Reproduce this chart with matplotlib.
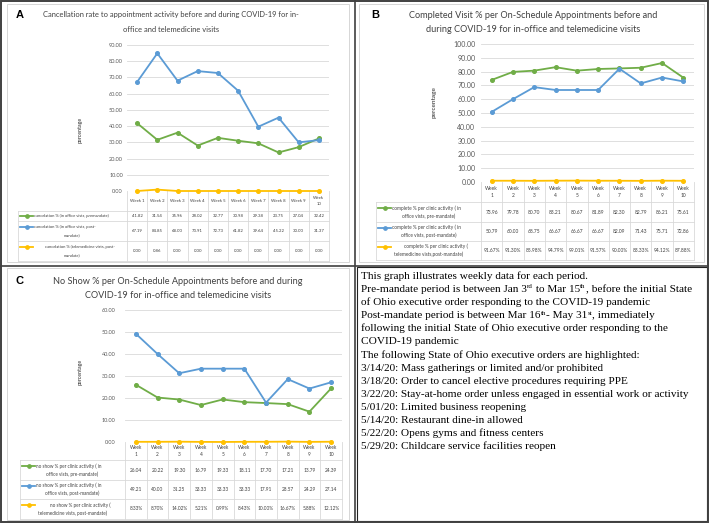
import matplotlib
matplotlib.use("Agg")
import matplotlib.pyplot as plt
from matplotlib.lines import Line2D
from matplotlib.patches import Rectangle

plt.rcParams['font.family'] = ['Lato', 'DejaVu Sans']

W, H = 709, 523

# ---------------- DATA ----------------
weeks_A = ["Week 1", "Week 2", "Week 3", "Week 4", "Week 5", "Week 6", "Week 7", "Week 8", "Week 9", "Week\n10"]
weeks_BC = ["Week\n1", "Week\n2", "Week\n3", "Week\n4", "Week\n5", "Week\n6", "Week\n7", "Week\n8", "Week\n9", "Week\n10"]

A_pre = [41.82, 31.54, 35.96, 28.02, 32.77, 30.98, 29.38, 23.75, 27.04, 32.42]
A_post = [67.19, 84.85, 68.00, 73.91, 72.73, 61.82, 39.64, 45.22, 30.00, 31.37]
A_tele = [0.00, 0.86, 0.00, 0.00, 0.00, 0.00, 0.00, 0.00, 0.00, 0.00]
A_labels = [("cancelation % (in office vists, premandate)", ""),
            ("cancelation % (in office vists, post-", "mandate)"),
            ("cancelation % (telemedicine vists, post-", "mandate)")]

B_pre = [73.96, 79.78, 80.70, 83.21, 80.67, 81.89, 82.30, 82.79, 86.21, 75.61]
B_post = [50.79, 60.00, 68.75, 66.67, 66.67, 66.67, 82.09, 71.43, 75.71, 72.86]
B_tele = [0.9167, 0.9130, 0.8598, 0.9479, 0.9901, 0.9157, 0.9000, 0.8333, 0.9412, 0.8788]
B_labels = [("complete % per clinic activity ( in", "office vists, pre-mandate)"),
            ("complete % per clinic activity ( in", "office vists, post-mandate)"),
            ("complete % per clinic activity (", "telemedicine vists,post-mandate)")]

C_pre = [26.04, 20.22, 19.30, 16.79, 19.33, 18.11, 17.70, 17.21, 13.79, 24.39]
C_post = [49.21, 40.00, 31.25, 33.33, 33.33, 33.33, 17.91, 28.57, 24.29, 27.14]
C_tele = [0.0833, 0.0870, 0.1402, 0.0521, 0.0099, 0.0843, 0.1000, 0.1667, 0.0588, 0.1212]
C_labels = [("no show % per clinic activity ( in", "office vists, pre-mandate)"),
            ("no show % per clinic activity ( in", "office vists, post-mandate)"),
            ("no show % per clinic activity (", "telemedicine vists, post-mandate)")]

A_title = ["Cancellation rate to appointment activity before and during COVID-19 for in-",
           "office and telemedicine visits"]
B_title = ["Completed Visit % per On-Schedule Appointments before and",
           "during COVID-19 for in-office and telemedicine visits"]
C_title = ["No Show % per On-Schedule Appointments before and during",
           "COVID-19 for in-office and telemedicine visits"]

# each note line is a list of (text, superscript?) segments
note_lines = [
    [("This graph illustrates weekly data for each period.", False)],
    [("Pre-mandate period is between Jan 3", False), ("rd", True), (" to Mar 15", False),
     ("th", True), (", before the initial State", False)],
    [("of Ohio executive order responding to the COVID-19 pandemic", False)],
    [("Post-mandate period is between Mar 16", False), ("th", True), ("- May 31", False),
     ("st", True), (", immediately", False)],
    [("following the initial State of Ohio executive order responding to the", False)],
    [("COVID-19 pandemic", False)],
    [("The following State of Ohio executive orders are highlighted:", False)],
    [("3/14/20: Mass gatherings or limited and/or prohibited", False)],
    [("3/18/20: Order to cancel elective procedures requiring PPE", False)],
    [("3/22/20: Stay-at-home order unless engaged in essential work or activity", False)],
    [("5/01/20: Limited business reopening", False)],
    [("5/14/20: Restaurant dine-in allowed", False)],
    [("5/22/20: Opens gyms and fitness centers", False)],
    [("5/29/20: Childcare service facilities reopen", False)],
]

GREEN, BLUE, YELLOW = "#70ad47", "#5b9bd5", "#ffc000"
GRID = "#d9d9d9"
TXT = "#404040"

fig = plt.figure(figsize=(W / 100, H / 100), dpi=100)
bg = fig.add_axes([0, 0, 1, 1])
bg.set_xlim(0, W)
bg.set_ylim(H, 0)
bg.axis("off")
renderer = fig.canvas.get_renderer()


def hline(x0, x1, y, c=GRID, lw=0.6, z=1):
    bg.add_line(Line2D([x0, x1], [y, y], color=c, lw=lw, zorder=z))


def vline(x, y0, y1, c=GRID, lw=0.6, z=1):
    bg.add_line(Line2D([x, x], [y0, y1], color=c, lw=lw, zorder=z))


def panel(letter, lx, ly, title, tx, ty, tsize,
          left, right, top, bottom, ymax, ystep, tick_fs, tick_pad, ylab_x, ylab_y, ylab_fs,
          series, tele_fmt, labels, header, label_left, rows, tab_fs, lab_fs):
    bg.text(lx, ly, letter, fontsize=8, fontweight="bold", family="Liberation Sans",
            ha="left", va="center", color="black")
    for i, t in enumerate(title):
        bg.text(tx, ty[i], t, fontsize=tsize, ha="center", va="center", color=TXT)
    ax = fig.add_axes([left / W, 1 - bottom / H, (right - left) / W, (bottom - top) / H])
    ax.set_xlim(0, 10)
    ax.set_ylim(0, ymax)
    ax.set_facecolor("none")
    for s in ax.spines.values():
        s.set_visible(False)
    ticks = [k * ystep for k in range(int(round(ymax / ystep)) + 1)]
    ax.set_yticks(ticks)
    ax.set_yticklabels(["%.2f" % t for t in ticks])
    ax.tick_params(axis="y", length=0, labelsize=tick_fs, pad=tick_pad, labelcolor="#595959")
    ax.set_xticks([])
    for t in ticks[1:]:
        ax.axhline(t, color=GRID, lw=0.6, zorder=0)
    ax.axhline(0, color="#bfbfbf", lw=0.7, zorder=0)
    xs = [i + 0.5 for i in range(10)]
    for vals, col in series:
        ax.plot(xs, vals, color=col, lw=1.3, marker="o", ms=2.6, clip_on=False, zorder=3)
    bg.text(ylab_x, ylab_y, "percentage", rotation=90, fontsize=ylab_fs,
            ha="center", va="center", color="#595959", fontweight="bold")

    # data table
    w = (right - left) / 10.0
    for k in range(11):
        vline(left + k * w, rows[0], rows[-1])
    vline(label_left, rows[1], rows[-1])
    for y in rows[1:]:
        hline(label_left, right, y)
    for k in range(10):
        bg.text(left + (k + 0.5) * w, (rows[0] + rows[1]) / 2, header[k], fontsize=tab_fs,
                ha="center", va="center", color=TXT, linespacing=1.5)
    for r, (vals, col) in enumerate(series):
        yc = (rows[r + 1] + rows[r + 2]) / 2
        for k in range(10):
            if r == 2 and tele_fmt == "pct":
                s = "%.2f%%" % (vals[k] * 100)
            else:
                s = "%.2f" % vals[k]
            bg.text(left + (k + 0.5) * w, yc, s, fontsize=tab_fs, ha="center", va="center", color=TXT)
        l1, l2 = labels[r]
        mx0, mx1 = label_left + 2, label_left + 15
        if l2:
            y1 = yc - 4.0
            y2 = yc + 4.0
        else:
            y1 = yc
            y2 = yc
        bg.add_line(Line2D([mx0, mx1], [y1, y1], color=col, lw=1.3, zorder=3))
        bg.plot([(mx0 + mx1) / 2], [y1], marker="o", ms=2.4, color=col, zorder=4)
        if r == 2 and l2:
            bg.text((mx1 + left) / 2, y1, l1, fontsize=lab_fs, ha="center", va="center", color=TXT)
        else:
            bg.text(mx1 + 0.5, y1, l1, fontsize=lab_fs, ha="left", va="center", color=TXT)
        if l2:
            bg.text((label_left + left) / 2, y2, l2, fontsize=lab_fs, ha="center", va="center", color=TXT)
    return ax


# frames
bg.add_patch(Rectangle((7, 4), 342, 258, fill=False, ec="#d0d0d0", lw=0.6))
bg.add_patch(Rectangle((359, 4), 345, 258, fill=False, ec="#d0d0d0", lw=0.6))
bg.add_patch(Rectangle((7, 268), 342, 252, fill=False, ec="#d0d0d0", lw=0.6))
bg.add_patch(Rectangle((1, 1), W - 2, H - 2, fill=False, ec="#404040", lw=1.4, zorder=5))
vline(355, 0, H, c="#404040", lw=1.2, z=5)
hline(0, W, 265.5, c="#404040", lw=1.2, z=5)

panel("A", 16, 15, A_title, 171, [15, 29], 5.4,
      127, 329, 45, 191, 90, 10, 4.0, 3, 80, 130, 3.8,
      [(A_pre, GREEN), (A_post, BLUE), (A_tele, YELLOW)], "num", A_labels, weeks_A,
      18, [191, 211, 221, 241, 261], 3.1, 3.0)

panel("B", 371, 15, B_title, 533, [16, 29], 6.6,
      481, 694, 44, 182, 100, 10, 5.0, 4, 434, 102, 4.6,
      [(B_pre, GREEN), (B_post, BLUE), (B_tele, YELLOW)], "pct", B_labels, weeks_BC,
      376, [182, 202, 222, 241, 260], 3.5, 3.4)

panel("C", 16, 281, C_title, 178, [282, 295], 6.6,
      125, 342, 310, 442, 60, 10, 4.0, 7, 80, 372, 3.8,
      [(C_pre, GREEN), (C_post, BLUE), (C_tele, YELLOW)], "pct", C_labels, weeks_BC,
      20, [442, 460, 480, 499, 519], 3.4, 3.3)

# text panel
bg.add_patch(Rectangle((357, 267), 350, 254, fill=False, ec="#222222", lw=0.8))
FS = 8.1
for i, segs in enumerate(note_lines):
    x = 361.0
    yb = 279 + i * 13.1
    for txt, sup in segs:
        t = bg.text(x, yb - (3.6 if sup else 0.0), txt, fontsize=FS * (0.62 if sup else 1.0),
                    family="Liberation Serif", ha="left", va="baseline", color="black")
        bb = t.get_window_extent(renderer=renderer)
        x += bb.width
        # trailing spaces are not measured by extents, add them explicitly
        if txt.endswith(" "):
            x += 2.8

fig.savefig("out.png", dpi=100)
